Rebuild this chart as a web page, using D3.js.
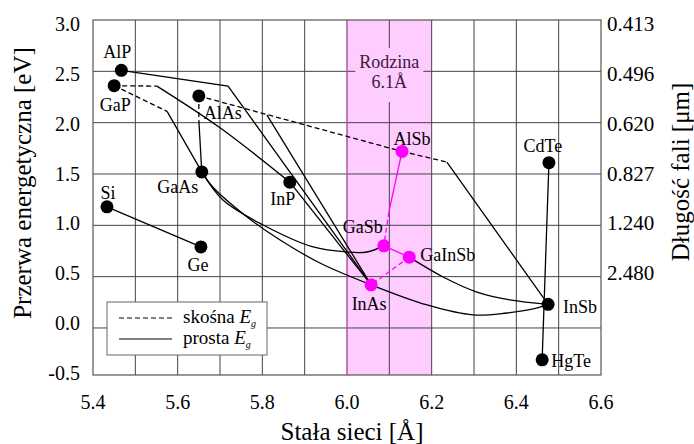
<!DOCTYPE html>
<html>
<head>
<meta charset="utf-8">
<script src="https://cdn.jsdelivr.net/npm/d3@7"></script>
<style>
  body { margin: 0; background: white; }
</style>
</head>
<body>
<div id="chart"></div>
<script>
"use strict"

// axis ticks
const xTicks = [5.4, 5.6, 5.8, 6.0, 6.2, 6.4, 6.6];
const xGrid = [5.5, 5.6, 5.7, 5.8, 5.9, 6.0, 6.1, 6.2, 6.3, 6.4, 6.5];
const yTicks = [-0.5, 0.0, 0.5, 1.0, 1.5, 2.0, 2.5, 3.0];
const yGrid = [0.0, 0.5, 1.0, 1.5, 2.0, 2.5];
const waveTicks = [3.0, 2.5, 2.0, 1.5, 1.0, 0.5];
const waveLabels = ["0.413", "0.496", "0.620", "0.827", "1.240", "2.480"];

// materials: name, lattice constant [A], band gap [eV], family colour
const names = ["Si", "Ge", "AlP", "GaP", "AlAs", "GaAs", "InP", "InAs", "GaSb", "GaInSb", "AlSb", "CdTe", "InSb", "HgTe"];
const lattice = [5.433, 5.655, 5.467, 5.450, 5.650, 5.657, 5.865, 6.057, 6.087, 6.147, 6.130, 6.477, 6.475, 6.461];
const gaps = [1.18, 0.79, 2.51, 2.36, 2.26, 1.52, 1.42, 0.42, 0.80, 0.69, 1.72, 1.61, 0.23, -0.31];
const family = ["k", "k", "k", "k", "k", "k", "k", "m", "m", "m", "m", "k", "k", "k"];

// alloy lines: [lattice, gap] points
// straight segments (direct gap)
const directLines = [
  [[5.433, 1.18], [5.655, 0.79]],
  [[5.467, 2.51], [5.719, 2.356], [6.057, 0.42]],
  [[5.575, 2.11], [5.657, 1.52]],
  [[5.650, 2.025], [5.657, 1.52]],
  [[5.811, 2.074], [6.057, 0.42]],
  [[5.865, 1.42], [6.057, 0.42]],
  [[6.236, 1.616], [6.475, 0.23]],
  [[6.477, 1.61], [6.461, -0.31]]
];
// bowed alloys (direct gap)
const bowedLines = [
  [[5.551, 2.356], [5.70, 1.95], [5.865, 1.42]],
  [[5.657, 1.52], [5.707, 1.246], [5.802, 1.003], [5.92, 0.789], [6.0, 0.74], [6.047, 0.74], [6.087, 0.80]],
  [[5.657, 1.52], [5.683, 1.373], [5.764, 1.081], [5.842, 0.857], [5.936, 0.633], [6.057, 0.42]],
  [[6.057, 0.42], [6.189, 0.224], [6.298, 0.127], [6.378, 0.146], [6.44, 0.185], [6.475, 0.23]],
  [[6.147, 0.69], [6.227, 0.497], [6.307, 0.35], [6.385, 0.273], [6.475, 0.23]]
];
const indirectLines = [
  [[5.450, 2.36], [5.551, 2.356]],
  [[5.450, 2.36], [5.575, 2.11]],
  [[5.650, 2.26], [5.650, 2.025]],
  [[5.650, 2.26], [6.130, 1.72]],
  [[6.130, 1.72], [6.236, 1.616]]
];
const familyDirect = [
  [[6.130, 1.72], [6.099, 1.13]],
  [[6.087, 0.80], [6.147, 0.69]]
];
const familyIndirect = [
  [[6.099, 1.13], [6.087, 0.80]],
  [[6.147, 0.69], [6.057, 0.42]]
];
const band = [6.0, 6.2];

// label offsets (px) relative to the dot
const labelPos = {
  Si: [1, -8, "middle"], Ge: [-3, 24, "middle"], AlP: [-4, -12, "middle"], GaP: [1, 25, "middle"],
  AlAs: [24, 23, "middle"], GaAs: [-24, 21, "middle"], InP: [-7, 23, "middle"], InAs: [-2, 25, "middle"],
  GaSb: [-21, -13, "middle"], GaInSb: [11, 4, "start"], AlSb: [10, -6, "middle"], CdTe: [-6, -11, "middle"],
  InSb: [15, 9, "start"], HgTe: [9, 7, "start"]
};

const W = 694, H = 444;
const plotL = 93, plotR = 601, plotT = 20, plotB = 375;

// pick the first Times-like font that is really installed
function pickSerif() {
  let ctx = document.createElement("canvas").getContext("2d");
  let probe = "Stała sieci energetyczna 0123";
  function width(f) { ctx.font = "30px " + f; return ctx.measureText(probe).width; }
  let base1 = width("monospace"), base2 = width("sans-serif");
  let candidates = ["Liberation Serif", "Tinos", "Times New Roman", "Nimbus Roman", "FreeSerif", "DejaVu Serif", "Noto Serif"];
  for (let c of candidates) {
    let w1 = width("'" + c + "', monospace"), w2 = width("'" + c + "', sans-serif");
    if (w1 !== base1 && w2 !== base2) return "'" + c + "', serif";
  }
  return "serif";
}
const serif = pickSerif();

const svg = d3.select("#chart").append("svg")
  .attr("width", W)
  .attr("height", H)
  .attr("font-family", serif)
  .style("display", "block");

const x = d3.scaleLinear().domain([5.4, 6.6]).range([plotL, plotR]);
const y = d3.scaleLinear().domain([-0.458, 3.0]).range([plotB, plotT]).clamp(true);
// the tick labels sit on a slightly tighter, even spacing than the grid
const yLabel = d3.scaleLinear().domain([-0.5, 3.0]).range([373, 24]);

// 6.1 A family band
svg.append("rect")
  .attr("x", x(band[0]))
  .attr("y", plotT)
  .attr("width", x(band[1]) - x(band[0]))
  .attr("height", plotB - plotT)
  .style("fill", "#ffccff");

// grid
svg.append("g").selectAll("line").data(xGrid).join("line")
  .attr("x1", d => x(d)).attr("x2", d => x(d))
  .attr("y1", plotT).attr("y2", plotB)
  .style("stroke", "#444").style("stroke-width", 1);

svg.append("g").selectAll("line").data(yGrid).join("line")
  .attr("x1", plotL).attr("x2", plotR)
  .attr("y1", d => y(d)).attr("y2", d => y(d))
  .style("stroke", "#444").style("stroke-width", 1);

svg.append("line")
  .attr("x1", x(band[0])).attr("x2", x(band[0]))
  .attr("y1", plotT).attr("y2", plotB)
  .style("stroke", "#e060e0").style("stroke-width", 1);

svg.append("rect")
  .attr("x", plotL).attr("y", plotT)
  .attr("width", plotR - plotL).attr("height", plotB - plotT)
  .style("fill", "none").style("stroke", "#555").style("stroke-width", 1.2);

// band caption
let mid = x((band[0] + band[1]) / 2);
svg.append("rect")
  .attr("x", mid - 34).attr("y", 48)
  .attr("width", 68).attr("height", 54)
  .style("fill", "#ffccff");
svg.append("text").attr("x", mid).attr("y", 68)
  .attr("text-anchor", "middle").style("font-size", "18px").style("fill", "#3a1a3a")
  .text("Rodzina");
svg.append("text").attr("x", mid).attr("y", 88)
  .attr("text-anchor", "middle").style("font-size", "18px").style("fill", "#3a1a3a")
  .text("6.1Å");

// legend
let lg = svg.append("g").attr("transform", "translate(107,302)");
lg.append("rect").attr("width", 160).attr("height", 53)
  .style("fill", "white").style("stroke", "#666").style("stroke-width", 1);
lg.append("line").attr("x1", 12).attr("x2", 65).attr("y1", 16).attr("y2", 16)
  .style("stroke", "black").style("stroke-dasharray", "5,3");
lg.append("line").attr("x1", 12).attr("x2", 65).attr("y1", 37).attr("y2", 37)
  .style("stroke", "black");
["skośna ", "prosta "].forEach(function(t, i) {
  let tx = lg.append("text").attr("x", 76).attr("y", 21 + i * 21).style("font-size", "19px");
  tx.append("tspan").text(t);
  tx.append("tspan").style("font-style", "italic").text("E");
  tx.append("tspan").attr("dy", 4).style("font-size", "10px").style("font-style", "italic").text("g");
});

// alloy lines
const straight = d3.line()
  .x(d => x(d[0]))
  .y(d => y(d[1]));

const bowed = d3.line()
  .x(d => x(d[0]))
  .y(d => y(d[1]))
  .curve(d3.curveCatmullRom.alpha(0.5));

function drawLines(data, gen, color, dash) {
  svg.append("g").selectAll("path").data(data).join("path")
    .attr("d", gen)
    .style("fill", "none")
    .style("stroke", color)
    .style("stroke-width", 1.3)
    .style("stroke-dasharray", dash);
}

drawLines(directLines, straight, "black", null);
drawLines(bowedLines, bowed, "black", null);
drawLines(indirectLines, straight, "black", "5,3");
drawLines(familyDirect, straight, "#ff00ff", null);
drawLines(familyIndirect, straight, "#ff00ff", "5,3");

// material dots
names.forEach(function(n, i) {
  let cx = x(lattice[i]), cy = y(gaps[i]);
  svg.append("circle")
    .attr("cx", cx).attr("cy", cy).attr("r", 6.5)
    .style("fill", family[i] === "m" ? "#ff00ff" : "black");
  let p = labelPos[n];
  svg.append("text")
    .attr("x", cx + p[0]).attr("y", cy + p[1])
    .attr("text-anchor", p[2])
    .style("font-size", "18px")
    .text(n);
});

// axes labels
svg.append("g").selectAll("text").data(xTicks).join("text")
  .attr("x", d => x(d)).attr("y", 409)
  .attr("text-anchor", "middle").style("font-size", "20px")
  .text(d => d.toFixed(1));

svg.append("g").selectAll("text").data(yTicks).join("text")
  .attr("x", 80).attr("y", d => yLabel(d) + 7)
  .attr("text-anchor", "end").style("font-size", "20px")
  .text(d => d.toFixed(1));

svg.append("g").selectAll("text").data(waveTicks).join("text")
  .attr("x", 607).attr("y", d => yLabel(d) + 7)
  .style("font-size", "21px")
  .text((d, i) => waveLabels[i]);

svg.append("text")
  .attr("x", 352).attr("y", 440)
  .attr("text-anchor", "middle").style("font-size", "25px")
  .text("Stała sieci [Å]");

svg.append("text")
  .attr("transform", "translate(31,183) rotate(-90)")
  .attr("text-anchor", "middle").style("font-size", "25px")
  .text("Przerwa energetyczna [eV]");

svg.append("text")
  .attr("transform", "translate(689,172) rotate(-90)")
  .attr("text-anchor", "middle").style("font-size", "25px")
  .text("Długość fali [μm]");
</script>
</body>
</html>
